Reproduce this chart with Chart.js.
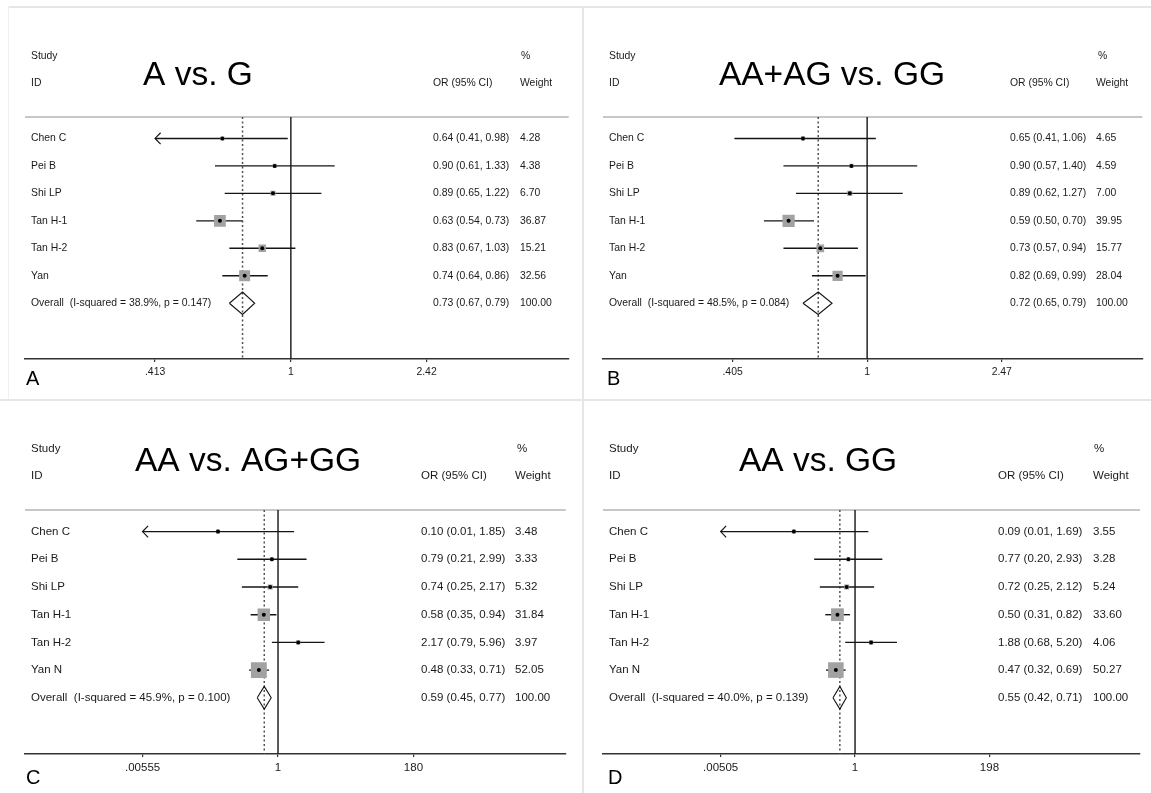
<!DOCTYPE html>
<html>
<head>
<meta charset="utf-8">
<title>Forest plots</title>
<script src="https://cdn.jsdelivr.net/npm/chart.js@4.4.1/dist/chart.umd.min.js"></script>
<style>
  html, body { margin: 0; padding: 0; background: #fff; overflow: hidden; }
  #page { position: relative; width: 1151px; height: 793px; }
  canvas { position: absolute; }
  .rule { position: absolute; background: #e6e6e6; }
</style>
</head>
<body>
<div id="page">
  <div class="rule" style="left:8px;top:6px;width:1143px;height:2px"></div>
  <div class="rule" style="left:8px;top:6px;width:1px;height:394px;background:#f0f0f0"></div>
  <div class="rule" style="left:582px;top:6px;width:2px;height:787px"></div>
  <div class="rule" style="left:0;top:399px;width:1151px;height:2px"></div>
  <canvas id="panelA" width="577" height="399" style="left:0;top:0"></canvas>
  <canvas id="panelB" width="574" height="399" style="left:577px;top:0"></canvas>
  <canvas id="panelC" width="577" height="393" style="left:0;top:400px"></canvas>
  <canvas id="panelD" width="574" height="393" style="left:577px;top:400px"></canvas>
</div>
<script>
// --- A vs. G ---
const namesA   = ['Chen C', 'Pei B', 'Shi LP', 'Tan H-1', 'Tan H-2', 'Yan'];
const orA      = [0.64, 0.90, 0.89, 0.63, 0.83, 0.74];
const lowA     = [0.41, 0.61, 0.65, 0.54, 0.67, 0.64];
const highA    = [0.98, 1.33, 1.22, 0.73, 1.03, 0.86];
const weightA  = [4.28, 4.38, 6.70, 36.87, 15.21, 32.56];
const overallA = [0.73, 0.67, 0.79];   // OR, low, high
const hetA     = [38.9, 0.147];        // I-squared %, p
const ticksA   = [0.413, 1, 2.42];

// --- AA+AG vs. GG ---
const namesB   = ['Chen C', 'Pei B', 'Shi LP', 'Tan H-1', 'Tan H-2', 'Yan'];
const orB      = [0.65, 0.90, 0.89, 0.59, 0.73, 0.82];
const lowB     = [0.41, 0.57, 0.62, 0.50, 0.57, 0.69];
const highB    = [1.06, 1.40, 1.27, 0.70, 0.94, 0.99];
const weightB  = [4.65, 4.59, 7.00, 39.95, 15.77, 28.04];
const overallB = [0.72, 0.65, 0.79];
const hetB     = [48.5, 0.084];
const ticksB   = [0.405, 1, 2.47];

// --- AA vs. AG+GG ---
const namesC   = ['Chen C', 'Pei B', 'Shi LP', 'Tan H-1', 'Tan H-2', 'Yan N'];
const orC      = [0.10, 0.79, 0.74, 0.58, 2.17, 0.48];
const lowC     = [0.0053, 0.21, 0.25, 0.35, 0.79, 0.33];
const highC    = [1.85, 2.99, 2.17, 0.94, 5.96, 0.71];
const weightC  = [3.48, 3.33, 5.32, 31.84, 3.97, 52.05];
const overallC = [0.59, 0.45, 0.77];
const hetC     = [45.9, 0.100];
const ticksC   = [0.00555, 1, 180];

// --- AA vs. GG ---
const namesD   = ['Chen C', 'Pei B', 'Shi LP', 'Tan H-1', 'Tan H-2', 'Yan N'];
const orD      = [0.09, 0.77, 0.72, 0.50, 1.88, 0.47];
const lowD     = [0.00502, 0.20, 0.25, 0.31, 0.68, 0.32];
const highD    = [1.69, 2.93, 2.12, 0.82, 5.20, 0.69];
const weightD  = [3.55, 3.28, 5.24, 33.60, 4.06, 50.27];
const overallD = [0.55, 0.42, 0.71];
const hetD     = [40.0, 0.139];
const ticksD   = [0.00505, 1, 198];

// --- Layout ---
const FONT  = '"Liberation Sans", Arial, Helvetica, sans-serif';
const Y_MIN = 0.22, Y_MAX = 9.03;   // header rule .. axis line, in row units
Chart.defaults.font.family = FONT;

const panels = [
  { id: 'panelA', title: 'A vs. G', letter: 'A',
    names: namesA, or: orA, low: lowA, high: highA, weight: weightA, overall: overallA, het: hetA, ticks: ticksA,
    xMin: 0.1770, xMax: 6.108, left: 25, right: 7, top: 117, axisH: 40, tickPad: 4,
    font: 10.4, box: 1.365, nameX: 31, orX: 433, wX: 520, pctX: 521,
    titleX: 198, titleY: 76, letterX: 26, letterY: 385 },
  { id: 'panelB', title: 'AA+AG vs. GG', letter: 'B',
    names: namesB, or: orB, low: lowB, high: highB, weight: weightB, overall: overallB, het: hetB, ticks: ticksB,
    xMin: 0.1696, xMax: 6.353, left: 26, right: 6, top: 117, axisH: 40, tickPad: 4,
    font: 10.4, box: 1.365, nameX: 32, orX: 433, wX: 519, pctX: 521,
    titleX: 255, titleY: 76, letterX: 30, letterY: 385 },
  { id: 'panelC', title: 'AA vs. AG+GG', letter: 'C',
    names: namesC, or: orC, low: lowC, high: highC, weight: weightC, overall: overallC, het: hetC, ticks: ticksC,
    xMin: 6.11e-5, xMax: 62006, left: 25, right: 7, top: 110, axisH: 39, tickPad: 4,
    font: 11.5, box: 1.556, nameX: 31, orX: 421, wX: 515, pctX: 517,
    titleX: 248, titleY: 62, letterX: 26, letterY: 384 },
  { id: 'panelD', title: 'AA vs. GG', letter: 'D',
    names: namesD, or: orD, low: lowD, high: highD, weight: weightD, overall: overallD, het: hetD, ticks: ticksD,
    xMin: 4.928e-5, xMax: 74016, left: 26, right: 6, top: 110, axisH: 39, tickPad: 4,
    font: 11.5, box: 1.556, nameX: 32, orX: 421, wX: 516, pctX: 517,
    titleX: 241, titleY: 62, letterX: 31, letterY: 384 }
];

function ciText(o, l, h) { return `${o.toFixed(2)} (${l.toFixed(2)}, ${h.toFixed(2)})`; }
function tickText(v) { return String(v).replace(/^0\./, '.'); }

function makeChart(p) {
  const tLo = p.ticks[0], tHi = p.ticks[p.ticks.length - 1];
  const pts = p.or.map((v, i) => ({ x: v, y: i + 1 }));
  const yo = p.names.length + 1;
  const [o, ol, oh] = p.overall;
  const h = 0.41;

  const datasets = [];
  // centre dots
  datasets.push({ data: pts, pointRadius: 2, pointBackgroundColor: '#000', pointBorderWidth: 0 });
  // weight boxes
  datasets.push({ data: pts, pointStyle: 'rect', backgroundColor: '#a2a2a2', borderWidth: 0,
    pointRadius: c => p.box * Math.sqrt(p.weight[c.dataIndex]) });
  // confidence intervals, cut at the outer ticks
  p.or.forEach((v, i) => datasets.push({
    data: [{ x: Math.max(p.low[i], tLo), y: i + 1 }, { x: Math.min(p.high[i], tHi), y: i + 1 }],
    showLine: true, borderColor: '#151515', borderWidth: 1.4, pointRadius: 0
  }));
  // pooled diamond
  datasets.push({
    data: [{ x: ol, y: yo }, { x: o, y: yo - h }, { x: oh, y: yo }, { x: o, y: yo + h }, { x: ol, y: yo }],
    showLine: true, borderColor: '#151515', borderWidth: 1.1, pointRadius: 0
  });
  // dashed line at pooled OR
  datasets.push({ data: [{ x: o, y: Y_MIN }, { x: o, y: Y_MAX }],
    showLine: true, borderColor: '#505050', borderWidth: 1.5, borderDash: [2, 2.5], pointRadius: 0 });
  // line of no effect
  datasets.push({ data: [{ x: 1, y: Y_MIN }, { x: 1, y: Y_MAX }],
    showLine: true, borderColor: '#151515', borderWidth: 1.4, pointRadius: 0 });

  const textPlugin = {
    id: 'forestText',
    beforeDatasetsDraw(chart) {
      const { ctx, chartArea } = chart;
      ctx.save();
      ctx.strokeStyle = '#b4b4b4';
      ctx.lineWidth = 1.5;
      ctx.beginPath();
      ctx.moveTo(chartArea.left, chartArea.top);
      ctx.lineTo(chartArea.right, chartArea.top);
      ctx.stroke();
      ctx.restore();
    },
    afterDraw(chart) {
      const ctx = chart.ctx, xs = chart.scales.x, ys = chart.scales.y;
      ctx.save();

      // arrows for clipped intervals
      ctx.strokeStyle = '#151515';
      ctx.lineWidth = 1.2;
      p.low.forEach((l, i) => {
        const yy = ys.getPixelForValue(i + 1);
        if (l < tLo) {
          const xx = xs.getPixelForValue(tLo);
          ctx.beginPath();
          ctx.moveTo(xx + 5.5, yy - 5.7); ctx.lineTo(xx, yy); ctx.lineTo(xx + 5.5, yy + 5.7);
          ctx.stroke();
        }
        if (p.high[i] > tHi) {
          const xx = xs.getPixelForValue(tHi);
          ctx.beginPath();
          ctx.moveTo(xx - 5.5, yy - 5.7); ctx.lineTo(xx, yy); ctx.lineTo(xx - 5.5, yy + 5.7);
          ctx.stroke();
        }
      });

      // table text
      ctx.fillStyle = '#1a1a1a';
      ctx.font = `${p.font}px ${FONT}`;
      ctx.textBaseline = 'middle';
      ctx.textAlign = 'left';
      ctx.fillText('Study', p.nameX, ys.getPixelForValue(-2));
      ctx.fillText('ID', p.nameX, ys.getPixelForValue(-1));
      ctx.fillText('%', p.pctX, ys.getPixelForValue(-2));
      ctx.fillText('OR (95% CI)', p.orX, ys.getPixelForValue(-1));
      ctx.fillText('Weight', p.wX, ys.getPixelForValue(-1));
      p.names.forEach((n, i) => {
        const yy = ys.getPixelForValue(i + 1);
        ctx.fillText(n, p.nameX, yy);
        ctx.fillText(ciText(p.or[i], p.low[i], p.high[i]), p.orX, yy);
        ctx.fillText(p.weight[i].toFixed(2), p.wX, yy);
      });
      const yy = ys.getPixelForValue(yo);
      ctx.fillText(`Overall  (I-squared = ${p.het[0].toFixed(1)}%, p = ${p.het[1].toFixed(3)})`, p.nameX, yy);
      ctx.fillText(ciText(o, ol, oh), p.orX, yy);
      ctx.fillText('100.00', p.wX, yy);

      // big title and panel letter
      ctx.fillStyle = '#000';
      ctx.font = `33.5px ${FONT}`;
      ctx.textAlign = 'center';
      ctx.fillText(p.title, p.titleX, p.titleY);
      ctx.font = `20px ${FONT}`;
      ctx.textAlign = 'left';
      ctx.textBaseline = 'alphabetic';
      ctx.fillText(p.letter, p.letterX, p.letterY);
      ctx.restore();
    }
  };

  return new Chart(document.getElementById(p.id), {
    type: 'scatter',
    data: { datasets },
    options: {
      responsive: false,
      animation: false,
      events: [],
      layout: { padding: { left: p.left, right: p.right, top: p.top, bottom: 0 } },
      plugins: { legend: { display: false }, title: { display: false }, tooltip: { enabled: false } },
      scales: {
        x: {
          type: 'logarithmic',
          min: p.xMin, max: p.xMax,
          bounds: 'data',
          afterBuildTicks: s => { s.ticks = p.ticks.map(v => ({ value: v })); },
          afterFit: s => { s.height = p.axisH; },
          ticks: { callback: v => tickText(v), autoSkip: false, maxRotation: 0, padding: p.tickPad,
                   color: '#1a1a1a', font: { size: p.font } },
          grid: { drawOnChartArea: false, drawTicks: true, tickLength: 3, color: '#333', lineWidth: 1.2 },
          border: { display: true, color: '#333', width: 1.5 }
        },
        y: { type: 'linear', reverse: true, min: Y_MIN, max: Y_MAX, display: false }
      }
    },
    plugins: [textPlugin]
  });
}

panels.forEach(makeChart);
</script>
</body>
</html>
